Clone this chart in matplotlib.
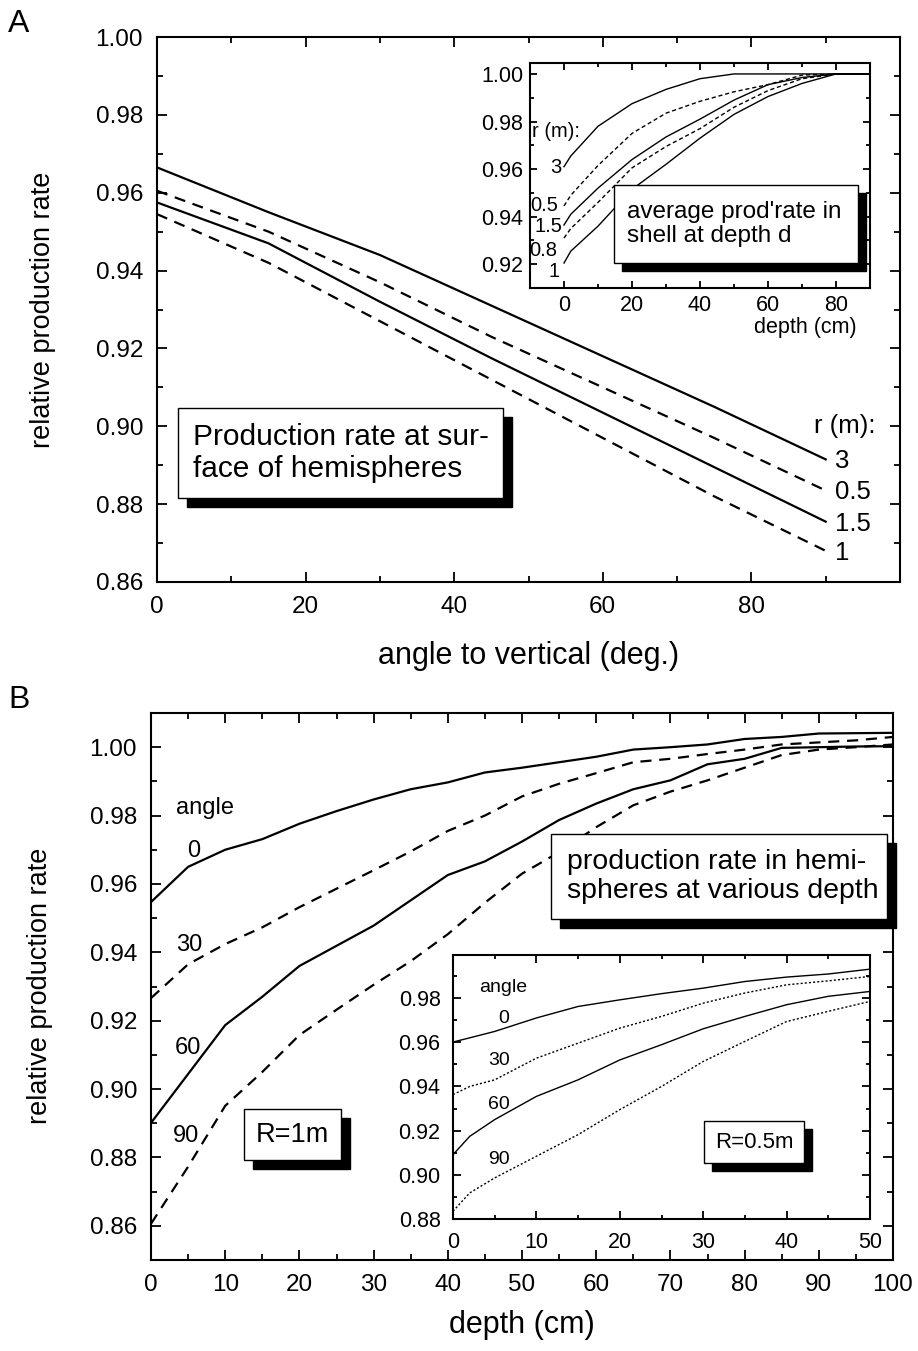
import matplotlib
matplotlib.use("Agg")
import matplotlib.pyplot as plt
from matplotlib.patches import Rectangle
from matplotlib.ticker import MultipleLocator

plt.rcParams['font.family'] = ['Liberation Sans', 'DejaVu Sans']

W, H = 918, 1351

# panel A: production rate at the surface vs angle
angle = [0, 15, 30, 45, 60, 75, 90]
surf_r3 = [0.9665, 0.955, 0.944, 0.931, 0.918, 0.905, 0.8915]
surf_r05 = [0.9605, 0.950, 0.937, 0.923, 0.910, 0.897, 0.8835]
surf_r15 = [0.9575, 0.947, 0.932, 0.9175, 0.9035, 0.8895, 0.8755]
surf_r1 = [0.9545, 0.942, 0.927, 0.912, 0.897, 0.882, 0.868]
surf_labels = ["3", "0.5", "1.5", "1"]

# inset A: average rate in shell at depth d
depth_a = [0, 2, 10, 20, 30, 40, 50, 60, 70, 80, 90]
shell_r3 = [0.961, 0.9655, 0.978, 0.9875, 0.9935, 0.998, 1.0, 1.0, 1.0, 1.0, 1.0]
shell_r05 = [0.9445, 0.949, 0.9615, 0.975, 0.9835, 0.9885, 0.9925, 0.9955, 0.9995, 1.0, 1.0]
shell_r15 = [0.9365, 0.941, 0.952, 0.964, 0.9735, 0.981, 0.989, 0.9955, 0.9985, 1.0, 1.0]
shell_r08 = [0.931, 0.935, 0.946, 0.9605, 0.9695, 0.977, 0.986, 0.993, 0.998, 1.0, 1.0]
shell_r1 = [0.9205, 0.9255, 0.936, 0.9515, 0.962, 0.973, 0.983, 0.9905, 0.996, 1.0, 1.0]
shell_labels = ["3", "0.5", "1.5", "0.8", "1"]

# panel B: R = 1 m, rate vs depth for several angles
depth_b = list(range(0, 101, 5))
hemi_0 = [0.9547, 0.965, 0.970, 0.9731, 0.9776, 0.9813, 0.9847, 0.9877, 0.9897, 0.9926, 0.994,
          0.9956, 0.9972, 0.9993, 1.0, 1.0008, 1.0024, 1.003, 1.004, 1.0041, 1.0042]
hemi_30 = [0.9266, 0.9365, 0.9424, 0.9473, 0.9532, 0.9586, 0.964, 0.9695, 0.9755, 0.980, 0.9856,
           0.9893, 0.9924, 0.9956, 0.9966, 0.998, 0.9993, 1.0008, 1.0014, 1.002, 1.003]
hemi_60 = [0.8901, 0.9044, 0.9187, 0.927, 0.936, 0.9419, 0.9478, 0.9552, 0.9626, 0.9666, 0.9724,
           0.9787, 0.9835, 0.9877, 0.9903, 0.995, 0.9966, 0.9998, 1.0, 1.0002, 1.0003]
hemi_90 = [0.8606, 0.8773, 0.8951, 0.905, 0.9158, 0.9232, 0.9305, 0.9374, 0.9453, 0.9545, 0.963,
           0.9693, 0.9766, 0.983, 0.987, 0.9903, 0.994, 0.9977, 0.9993, 1.0, 1.0008]
angle_labels = ["0", "30", "60", "90"]

# inset B: R = 0.5 m
depth_c = [0, 2, 5, 10, 15, 20, 25, 30, 35, 40, 45, 50]
small_0 = [0.9601, 0.962, 0.9649, 0.971, 0.9762, 0.9792, 0.982, 0.9845, 0.9875, 0.9895, 0.9909, 0.9931]
small_30 = [0.9363, 0.940, 0.943, 0.9528, 0.9596, 0.9664, 0.9717, 0.9777, 0.9823, 0.986, 0.9878, 0.9898]
small_60 = [0.9091, 0.9174, 0.925, 0.9355, 0.943, 0.952, 0.9589, 0.9661, 0.9717, 0.977, 0.9808, 0.983]
small_90 = [0.8835, 0.8918, 0.8986, 0.9084, 0.9182, 0.9295, 0.94, 0.9513, 0.9604, 0.9694, 0.974, 0.9785]


def rect(x0, y0, x1, y1):
    # pixel box (top-left origin) -> figure fraction [l, b, w, h]
    return [x0 / W, 1 - y1 / H, (x1 - x0) / W, (y1 - y0) / H]


def style(ax, fs, minor, pad=10, major_len=7, minor_len=4):
    for s in ax.spines.values():
        s.set_linewidth(1.5)
    ax.tick_params(which="both", direction="in", top=True, right=True,
                   labelsize=fs, width=1.3, pad=pad)
    ax.tick_params(which="major", length=major_len)
    ax.tick_params(which="minor", length=minor_len)
    ax.xaxis.set_minor_locator(MultipleLocator(minor[0]))
    ax.yaxis.set_minor_locator(MultipleLocator(minor[1]))
    ax.yaxis.set_major_formatter(lambda v, p: f"{v:.2f}")


def shadow_box(x0, y0, x1, y1, lines, fs, off=9, center=False, tx=None):
    fig.add_artist(Rectangle(((x0 + off) / W, 1 - (y1 + off) / H), (x1 - x0) / W, (y1 - y0) / H,
                             transform=fig.transFigure, facecolor="black", edgecolor="black", zorder=10))
    fig.add_artist(Rectangle((x0 / W, 1 - y1 / H), (x1 - x0) / W, (y1 - y0) / H,
                             transform=fig.transFigure, facecolor="white", edgecolor="black",
                             linewidth=1.0, zorder=11))
    if center:
        fig.text((x0 + x1) / 2 / W, 1 - (y0 + y1) / 2 / H, lines, ha="center", va="center",
                 fontsize=fs, zorder=12)
    else:
        fig.text(tx / W, 1 - (y0 + y1) / 2 / H, lines, ha="left", va="center",
                 fontsize=fs, linespacing=1.15, zorder=12)


fig = plt.figure(figsize=(W / 100, H / 100), dpi=100)

dash = (0, (5, 3.5))
fine_dash = (0, (3, 2))
dot = (0, (1.5, 1.5))

# ---------------- panel A ----------------
axA = fig.add_axes(rect(157, 37, 900, 582))
axA.plot(angle, surf_r3, color="black", lw=1.6)
axA.plot(angle, surf_r05, color="black", lw=1.6, linestyle=dash)
axA.plot(angle, surf_r15, color="black", lw=1.6)
axA.plot(angle, surf_r1, color="black", lw=1.6, linestyle=dash)
axA.set_xlim(0, 100)
axA.set_ylim(0.86, 1.00)
axA.set_xticks([0, 20, 40, 60, 80])
axA.set_yticks([0.86, 0.88, 0.90, 0.92, 0.94, 0.96, 0.98, 1.00])
style(axA, 17.5, (10, 0.01))
axA.set_xlabel("angle to vertical (deg.)", fontsize=22, labelpad=17)
axA.text(88.4, 0.9002, "r (m):", fontsize=18.5, ha="left", va="center")
for lab, vals in zip(surf_labels, [surf_r3, surf_r05, surf_r15, surf_r1]):
    axA.text(91.2, vals[-1] - 0.0005, lab, fontsize=18.5, ha="left", va="center")
fig.text(43 / W, 1 - 310 / H, "relative production rate", rotation=90, fontsize=19.5,
         ha="center", va="center")
fig.text(8 / W, 1 - 24 / H, "A", fontsize=23, ha="left", va="center")

# inset A
axIA = fig.add_axes(rect(530, 63, 870, 288))
axIA.plot(depth_a, shell_r3, color="black", lw=1.0)
axIA.plot(depth_a, shell_r05, color="black", lw=1.0, linestyle=fine_dash)
axIA.plot(depth_a, shell_r15, color="black", lw=1.0)
axIA.plot(depth_a, shell_r08, color="black", lw=1.0, linestyle=fine_dash)
axIA.plot(depth_a, shell_r1, color="black", lw=1.0)
axIA.set_xlim(-10, 90)
axIA.set_ylim(0.910, 1.0046)
axIA.set_xticks([0, 20, 40, 60, 80])
axIA.set_yticks([0.92, 0.94, 0.96, 0.98, 1.00])
style(axIA, 15.5, (10, 0.01), pad=5, major_len=5, minor_len=3)
axIA.set_xlabel("depth (cm)", fontsize=15.5)
axIA.xaxis.set_label_coords(0.81, -0.13)
axIA.text(-9.3, 0.9756, "r (m):", fontsize=14.5, ha="left", va="center")
for lab, xx, yy in zip(shell_labels, [-2.4, -5.9, -4.7, -6.2, -2.9],
                       [0.9608, 0.9448, 0.936, 0.9259, 0.917]):
    axIA.text(xx, yy, lab, fontsize=14.5, ha="center", va="center")
shadow_box(614, 185, 858, 263, "average prod'rate in\nshell at depth d", 17.5, off=8, tx=627)
shadow_box(178, 408, 503, 498, "Production rate at sur-\nface of hemispheres", 21.5, off=9, tx=193)

# ---------------- panel B ----------------
axB = fig.add_axes(rect(151, 713, 893, 1260))
axB.plot(depth_b, hemi_0, color="black", lw=1.6)
axB.plot(depth_b, hemi_30, color="black", lw=1.6, linestyle=dash)
axB.plot(depth_b, hemi_60, color="black", lw=1.6)
axB.plot(depth_b, hemi_90, color="black", lw=1.6, linestyle=dash)
axB.set_xlim(0, 100)
axB.set_ylim(0.85, 1.01)
axB.set_xticks(range(0, 101, 10))
axB.set_yticks([0.86, 0.88, 0.90, 0.92, 0.94, 0.96, 0.98, 1.00])
style(axB, 17.5, (5, 0.01))
axB.set_xlabel("depth (cm)", fontsize=22, labelpad=10)
axB.text(7.3, 0.9822, "angle", fontsize=17, ha="center", va="center")
for lab, xx, yy in zip(angle_labels, [5.7, 5.1, 5.0, 4.7], [0.9697, 0.942, 0.912, 0.8863]):
    axB.text(xx, yy, lab, fontsize=17, ha="center", va="center")
fig.text(40 / W, 1 - 986 / H, "relative production rate", rotation=90, fontsize=19.5,
         ha="center", va="center")
fig.text(8 / W, 1 - 700 / H, "B", fontsize=23, ha="left", va="center")
shadow_box(551, 834, 887, 919, "production rate in hemi-\nspheres at various depth", 20.5, off=9, tx=567)
shadow_box(244, 1109, 341, 1160, "R=1m", 19.5, off=9, center=True)

# inset B
axIB = fig.add_axes(rect(453, 955, 870, 1219))
axIB.plot(depth_c, small_0, color="black", lw=1.0)
axIB.plot(depth_c, small_30, color="black", lw=1.0, linestyle=dot)
axIB.plot(depth_c, small_60, color="black", lw=1.0)
axIB.plot(depth_c, small_90, color="black", lw=1.0, linestyle=dot)
axIB.set_xlim(0, 50)
axIB.set_ylim(0.88, 0.9995)
axIB.set_xticks(range(0, 51, 10))
axIB.set_yticks([0.88, 0.90, 0.92, 0.94, 0.96, 0.98])
style(axIB, 15.5, (5, 0.01), pad=9, major_len=6, minor_len=3)
axIB.text(6.0, 0.9846, "angle", fontsize=14, ha="center", va="center")
for lab, xx, yy in zip(angle_labels, [6.1, 5.5, 5.5, 5.5], [0.9708, 0.9516, 0.9319, 0.9069]):
    axIB.text(xx, yy, lab, fontsize=14, ha="center", va="center")
shadow_box(704, 1121, 804, 1163, "R=0.5m", 16, off=8, center=True)

fig.savefig("out.png", dpi=100)
